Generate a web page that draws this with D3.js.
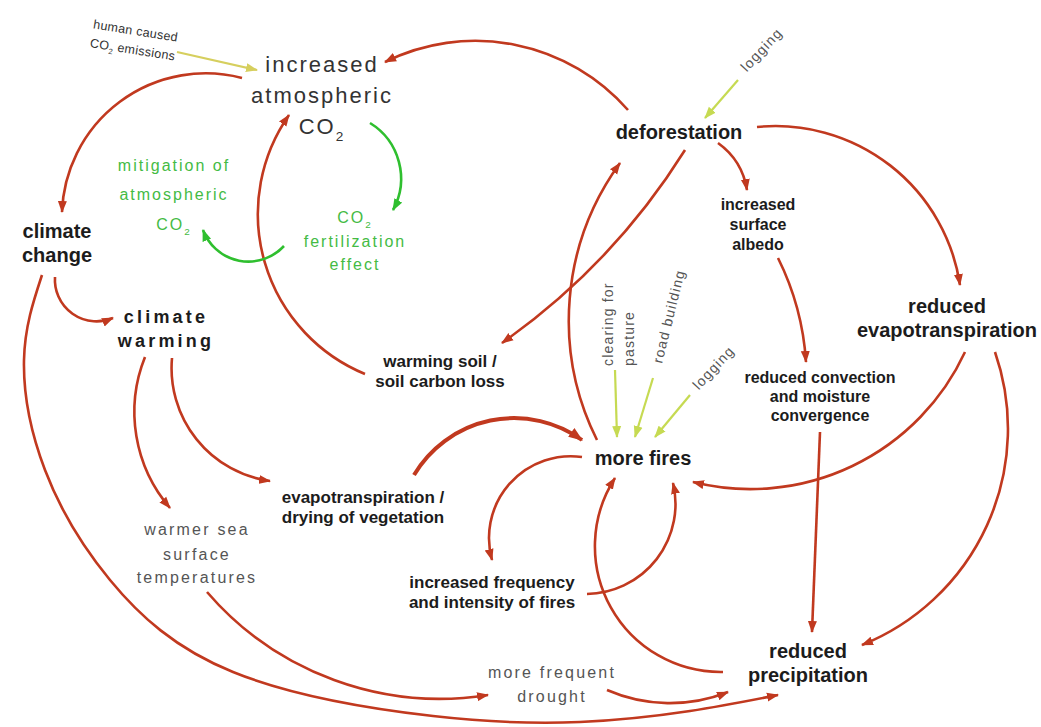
<!DOCTYPE html>
<html>
<head>
<meta charset="utf-8">
<script src="https://cdn.jsdelivr.net/npm/d3@7"></script>
<style>
  body { margin: 0; background: #fff; }
  svg text { font-family: "Liberation Sans", Arial, sans-serif; }
</style>
</head>
<body>
<div id="chart"></div>
<script>
var width = 1041;
var height = 727;

// ---- data: concepts and the causal links between them ----
var nodeIds = ["co2", "human", "deforestation", "loggingTop", "mitigation", "fertilization",
  "climateChange", "climateWarming", "warmingSoil", "albedo", "reducedET", "convection",
  "clearing", "road", "loggingLow", "moreFires", "evapo", "warmerSea", "frequency",
  "drought", "reducedPrecip"];

var nodeLabels = [
  ["increased", "atmospheric", "CO_2"],
  ["human caused", "CO_2 emissions"],
  ["deforestation"],
  ["logging"],
  ["mitigation of", "atmospheric", "CO_2"],
  ["CO_2", "fertilization", "effect"],
  ["climate", "change"],
  ["climate", "warming"],
  ["warming soil /", "soil carbon loss"],
  ["increased", "surface", "albedo"],
  ["reduced", "evapotranspiration"],
  ["reduced convection", "and moisture", "convergence"],
  ["clearing for", "pasture"],
  ["road building"],
  ["logging"],
  ["more fires"],
  ["evapotranspiration /", "drying of vegetation"],
  ["warmer sea", "surface", "temperatures"],
  ["increased frequency", "and intensity of  fires"],
  ["more frequent", "drought"],
  ["reduced", "precipitation"]
];

var linkFrom = ["deforestation", "co2", "climateChange", "climateWarming", "climateWarming",
  "climateChange", "warmerSea", "drought", "evapo", "warmingSoil", "deforestation",
  "moreFires", "deforestation", "deforestation", "albedo", "reducedET", "reducedET",
  "convection", "moreFires", "frequency", "reducedPrecip",
  "co2", "fertilization",
  "human", "loggingTop", "clearing", "road", "loggingLow"];
var linkTo = ["co2", "climateChange", "climateWarming", "warmerSea", "evapo",
  "reducedPrecip", "drought", "reducedPrecip", "moreFires", "co2", "warmingSoil",
  "deforestation", "albedo", "reducedET", "convection", "moreFires", "reducedPrecip",
  "reducedPrecip", "frequency", "moreFires", "moreFires",
  "fertilization", "mitigation",
  "co2", "deforestation", "moreFires", "moreFires", "moreFires"];
var linkKind = ["cause", "cause", "cause", "cause", "cause", "cause", "cause", "cause",
  "strong", "cause", "cause", "cause", "cause", "cause", "cause", "cause", "cause",
  "cause", "cause", "cause", "cause",
  "cycle", "cycle",
  "human", "driver", "driver", "driver", "driver"];

// ---- layout: where each concept sits and how each link is drawn ----
var nodeLayout = {
  co2:            {x: 322, y: [72, 103, 134], cls: "big"},
  human:          {x: 0, y: [0, 19], cls: "small", at: [135, 35], rot: 9},
  deforestation:  {x: 679, y: [139], cls: "bold20"},
  loggingTop:     {x: 0, y: [0], cls: "driver", at: [765, 53], rot: -47},
  mitigation:     {x: 174, y: [171, 200, 230], cls: "green"},
  fertilization:  {x: 355, y: [223, 247, 270], cls: "green"},
  climateChange:  {x: 57, y: [238, 262], cls: "bold20"},
  climateWarming: {x: 166, y: [323, 347], cls: "warming"},
  warmingSoil:    {x: 440, y: [367, 387], cls: "bold17"},
  albedo:         {x: 758, y: [210, 230, 250], cls: "bold16"},
  reducedET:      {x: 947, y: [313, 337], cls: "bold20"},
  convection:     {x: 820, y: [383, 402, 421], cls: "bold16"},
  clearing:       {x: 0, y: [0, 21], cls: "driver", at: [613, 366], rot: -90, anchor: "start"},
  road:           {x: 0, y: [0], cls: "driver", at: [662, 364], rot: -76, anchor: "start"},
  loggingLow:     {x: 0, y: [0], cls: "driver", at: [717, 371], rot: -47},
  moreFires:      {x: 643, y: [465], cls: "bold20"},
  evapo:          {x: 363, y: [503, 523], cls: "bold17"},
  warmerSea:      {x: 197, y: [535, 560, 583], cls: "spaced"},
  frequency:      {x: 492, y: [588, 608], cls: "bold17"},
  drought:        {x: 552, y: [678, 702], cls: "spaced"},
  reducedPrecip:  {x: 808, y: [658, 682], cls: "bold20"}
};

// [start x, start y, end x, end y, bend] (bend = sagitta / chord, + bulges left of travel)
// or a list of waypoints for the free-hand sweep
var linkGeom = [
  [628, 110, 385, 62, -0.17],
  [242, 78, 62, 212, -0.24],
  [55, 277, 113, 318, -0.28],
  [145, 357, 170, 508, -0.14],
  [172, 358, 270, 481, -0.2],
  [[42, 275], [24, 360], [45, 470], [110, 580], [233, 672], [433, 716], [580, 722], [690, 711], [778, 695]],
  [207, 592, 488, 695, -0.13],
  [607, 690, 728, 692, -0.1],
  [414, 475, 582, 440, 0.22],
  [365, 374, 289, 115, 0.24],
  [685, 150, 502, 343, 0.05],
  [597, 440, 620, 163, 0.14],
  [718, 143, 747, 190, 0.1],
  [757, 127, 960, 285, 0.2],
  [778, 258, 806, 362, 0.05],
  [965, 352, 693, 482, 0.18],
  [995, 352, 862, 645, 0.2],
  [820, 432, 812, 632, 0],
  [582, 457, 492, 560, -0.27],
  [587, 594, 673, 483, -0.24],
  [723, 672, 615, 478, 0.3],
  [370, 123, 393, 210, 0.2],
  [284, 246, 203, 230, 0.28],
  [177, 52, 257, 70, 0],
  [738, 80, 705, 118, 0],
  [615, 370, 617, 437, 0],
  [653, 378, 635, 437, 0],
  [690, 395, 655, 437, 0]
];

var textStyle = {
  big:     {size: 22, weight: "normal", fill: "#333", ls: 2},
  small:   {size: 12.5, weight: "normal", fill: "#333", ls: 0.3},
  bold20:  {size: 20, weight: "bold", fill: "#1c1c1c", ls: 0},
  bold17:  {size: 17, weight: "bold", fill: "#1c1c1c", ls: 0},
  bold16:  {size: 16, weight: "bold", fill: "#1c1c1c", ls: 0},
  warming: {size: 18, weight: "bold", fill: "#1c1c1c", ls: 3.2},
  green:   {size: 16, weight: "normal", fill: "#44bb44", ls: 2},
  spaced:  {size: 16, weight: "normal", fill: "#555", ls: 2.2},
  driver:  {size: 14, weight: "normal", fill: "#555", ls: 1.2}
};

var linkStyle = {
  cause:  {color: "#c1391f", width: 2.6},
  strong: {color: "#c1391f", width: 4},
  cycle:  {color: "#2fbf2f", width: 2.6},
  human:  {color: "#d6cf5e", width: 2.2},
  driver: {color: "#c6da52", width: 2.2}
};

var x = d3.scaleLinear().domain([0, 1041]).range([0, width]);
var y = d3.scaleLinear().domain([0, 727]).range([0, height]);

var svg = d3.select("#chart")
  .append("svg")
  .attr("width", width)
  .attr("height", height)
  .style("background", "#fff");

// arrowheads, one per link kind
var defs = svg.append("defs");
Object.keys(linkStyle).forEach(function(k) {
  defs.append("marker")
    .attr("id", "arrow-" + k)
    .attr("viewBox", "0 0 12 10")
    .attr("refX", 11)
    .attr("refY", 5)
    .attr("markerUnits", "userSpaceOnUse")
    .attr("markerWidth", k == "strong" ? 15 : 12)
    .attr("markerHeight", k == "strong" ? 12 : 10)
    .attr("orient", "auto")
    .append("path")
    .attr("d", "M0,0.5 L12,5 L0,9.5 Z")
    .attr("fill", linkStyle[k].color);
});

var sweepLine = d3.line()
  .x(function(p) { return x(p[0]); })
  .y(function(p) { return y(p[1]); })
  .curve(d3.curveNatural);

function arcPath(g) {
  if (Array.isArray(g[0])) return sweepLine(g);
  var x1 = x(g[0]), y1 = y(g[1]), x2 = x(g[2]), y2 = y(g[3]), b = g[4];
  if (b == 0) return "M" + x1 + "," + y1 + " L" + x2 + "," + y2;
  var c = Math.hypot(x2 - x1, y2 - y1);
  var s = Math.abs(b) * c;
  var r = (c * c / 4 + s * s) / (2 * s);
  var large = Math.abs(b) > 0.5 ? 1 : 0;
  var sweep = b > 0 ? 1 : 0;
  return "M" + x1 + "," + y1 + " A" + r + "," + r + " 0 " + large + " " + sweep + " " + x2 + "," + y2;
}

var links = linkFrom.map(function(f, i) {
  return {from: f, to: linkTo[i], kind: linkKind[i], geom: linkGeom[i]};
});

svg.append("g")
  .attr("class", "links")
  .selectAll("path")
  .data(links)
  .enter()
  .append("path")
  .attr("d", function(d) { return arcPath(d.geom); })
  .attr("fill", "none")
  .attr("stroke", function(d) { return linkStyle[d.kind].color; })
  .attr("stroke-width", function(d) { return linkStyle[d.kind].width; })
  .attr("marker-end", function(d) { return "url(#arrow-" + d.kind + ")"; });

// labels
var nodes = nodeIds.map(function(id, i) {
  return {id: id, lines: nodeLabels[i], lay: nodeLayout[id]};
});

var nodeG = svg.append("g")
  .attr("class", "nodes")
  .selectAll("g")
  .data(nodes)
  .enter()
  .append("g")
  .attr("transform", function(d) {
    if (d.lay.at) return "translate(" + x(d.lay.at[0]) + "," + y(d.lay.at[1]) + ") rotate(" + d.lay.rot + ")";
    return null;
  });

nodeG.each(function(d) {
  var st = textStyle[d.lay.cls];
  var g = d3.select(this);
  d.lines.forEach(function(line, i) {
    var t = g.append("text")
      .attr("x", d.lay.at ? d.lay.x : x(d.lay.x))
      .attr("y", d.lay.at ? d.lay.y[i] : y(d.lay.y[i]))
      .attr("text-anchor", d.lay.anchor || "middle")
      .attr("font-size", st.size)
      .attr("font-weight", st.weight)
      .attr("letter-spacing", st.ls)
      .attr("fill", st.fill);
    var parts = line.split("_");
    t.append("tspan").text(parts[0]);
    if (parts.length > 1) {
      t.append("tspan")
        .attr("dy", st.size * 0.3)
        .attr("font-size", st.size * 0.62)
        .text(parts[1].charAt(0));
      if (parts[1].length > 1) {
        t.append("tspan")
          .attr("dy", -st.size * 0.3)
          .text(parts[1].slice(1));
      }
    }
  });
});
</script>
</body>
</html>
